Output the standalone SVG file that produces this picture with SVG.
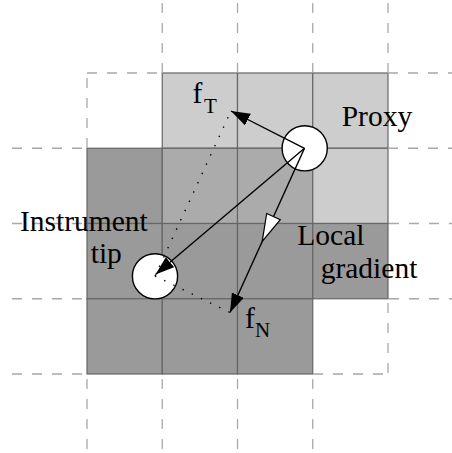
<svg xmlns="http://www.w3.org/2000/svg" width="452" height="453" viewBox="0 0 452 453">
  <defs>
    <style>
      .cell { stroke: #666666; stroke-width: 1.2; }
      .light { fill: #cdcdcd; }
      .mid { fill: #ababab; }
      .dark { fill: #9a9a9a; }
      .dash { fill: none; stroke: #a8a8a8; stroke-width: 1.3; stroke-dasharray: 10 10; }
      .vec { fill: none; stroke: #000; stroke-width: 1.4; }
      .dot { fill: none; stroke: #000; stroke-width: 1.4; stroke-dasharray: 1.4 8.8; }
      .ball { fill: #fff; stroke: #000; stroke-width: 1.4; }
      text { font-family: "Liberation Serif", "Times New Roman", serif; fill: #000; }
      .lbl { font-size: 29.5px; }
      .sub { font-size: 21px; }
    </style>
    <marker id="head" markerUnits="userSpaceOnUse" markerWidth="20" markerHeight="14" refX="19" refY="6.5" orient="auto">
      <path d="M0,0 L19,6.5 L0,13 Z" fill="#000"/>
    </marker>
  </defs>

  <!-- voxel grid cells -->
  <g id="cells">
    <rect class="cell light" x="162.25" y="73" width="75.25" height="75.25"/>
    <rect class="cell light" x="237.5" y="73" width="75.25" height="75.25"/>
    <rect class="cell light" x="312.75" y="73" width="75.25" height="75.25"/>
    <rect class="cell dark" x="87" y="148.25" width="75.25" height="75.25"/>
    <rect class="cell mid" x="162.25" y="148.25" width="75.25" height="75.25"/>
    <rect class="cell mid" x="237.5" y="148.25" width="75.25" height="75.25"/>
    <rect class="cell light" x="312.75" y="148.25" width="75.25" height="75.25"/>
    <rect class="cell dark" x="87" y="223.5" width="75.25" height="75.25"/>
    <rect class="cell dark" x="162.25" y="223.5" width="75.25" height="75.25"/>
    <rect class="cell dark" x="237.5" y="223.5" width="75.25" height="75.25"/>
    <rect class="cell dark" x="312.75" y="223.5" width="75.25" height="75.25"/>
    <rect class="cell dark" x="87" y="298.75" width="75.25" height="75.25"/>
    <rect class="cell dark" x="162.25" y="298.75" width="75.25" height="75.25"/>
    <rect class="cell dark" x="237.5" y="298.75" width="75.25" height="75.25"/>
  </g>

  <!-- empty grid continuation -->
  <g id="grid-dashes">
    <path class="dash" d="M162.25,3 V73 M237.5,3 V73 M312.75,3 V73 M388,3 V73"/>
    <path class="dash" d="M87,379 V453 M162.25,379 V453 M237.5,379 V453 M312.75,379 V453"/>
    <path class="dash" d="M12,148.25 H87 M12,223.5 H87 M12,298.75 H87 M12,374 H87"/>
    <path class="dash" d="M388,73 H452 M388,148.25 H452 M389,223.5 H452 M389,298.75 H452"/>
    <path class="dash" d="M87,73 H162.25 M87,78 V148.25"/>
    <path class="dash" d="M388,303 V374 M313,374 H388"/>
  </g>

  <g id="proxy">
    <circle class="ball" cx="304.7" cy="148.3" r="22.6"/>
  </g>
  <g id="instrument-tip">
    <circle class="ball" cx="155" cy="276.3" r="22.6"/>
  </g>

  <g id="connectors">
    <path class="dot" d="M155,276 L231,111"/>
    <path class="dot" d="M155,276 L230,312.5"/>
    <path class="vec" d="M304.5,148.3 L231,111" marker-end="url(#head)"/>
    <path class="vec" d="M304.5,148.3 L155.5,274.5" marker-end="url(#head)"/>
    <path class="vec" d="M304.5,148.3 L230,312.5" marker-end="url(#head)"/>
    <polygon points="266.7,213.5 280.3,219.7 262.2,241.4" fill="#fff" stroke="#000" stroke-width="1.2" stroke-linejoin="miter"/>
  </g>

  <g id="labels">
    <text class="lbl" x="192.5" y="102.7">f<tspan class="sub" x="204" y="112.7">T</tspan></text>
    <text class="lbl" x="341.7" y="126">Proxy</text>
    <text class="lbl" x="20" y="231">Instrument</text>
    <text class="lbl" x="90.7" y="263">tip</text>
    <text class="lbl" x="297.3" y="245">Local</text>
    <text class="lbl" x="320.7" y="277.5">gradient</text>
    <text class="lbl" x="245" y="327.5">f<tspan class="sub" x="255" y="336.5">N</tspan></text>
  </g>
</svg>
